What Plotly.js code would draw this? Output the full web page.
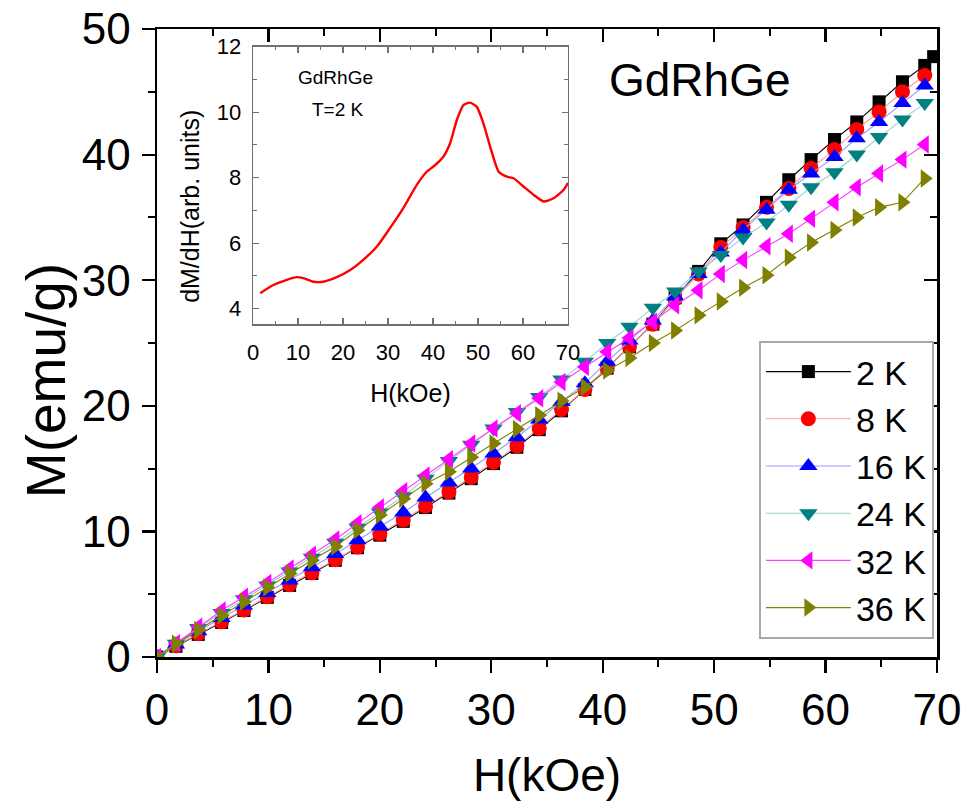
<!DOCTYPE html>
<html>
<head>
<meta charset="utf-8">
<script src="https://cdn.plot.ly/plotly-3.0.1.min.js"></script>
<style>html,body{margin:0;padding:0;background:#fff;}#chart{width:967px;height:805px;}</style>
</head>
<body>
<div id="chart"></div>
<script>
// ---- data ----
const H_common = [0, 1.7, 3.7, 5.8, 7.8, 9.9, 11.9, 13.9, 16.0, 18.0, 20.0, 22.1, 24.1, 26.2, 28.2, 30.2, 32.3, 34.3, 36.3, 38.4, 40.4, 42.4, 44.5, 46.5, 48.6, 50.6, 52.6, 54.7, 56.7, 58.7, 60.8, 62.8, 64.8, 66.9, 68.9];
const H_2K = [0, 1.7, 3.7, 5.8, 7.8, 9.9, 11.9, 13.9, 16.0, 18.0, 20.0, 22.1, 24.1, 26.2, 28.2, 30.2, 32.3, 34.3, 36.3, 38.4, 40.4, 42.4, 44.5, 46.5, 48.6, 50.6, 52.6, 54.7, 56.7, 58.7, 60.8, 62.8, 64.8, 66.9, 68.9, 69.7];
const M_2K  = [0, 0.85, 1.8, 2.75, 3.7, 4.75, 5.7, 6.65, 7.7, 8.7, 9.7, 10.8, 11.9, 13.05, 14.2, 15.4, 16.7, 18.1, 19.6, 21.3, 23.0, 24.7, 26.5, 28.6, 30.7, 32.9, 34.4, 36.2, 38.0, 39.6, 41.2, 42.6, 44.2, 45.8, 47.1, 47.8];
const M_8K  = [0, 0.9, 1.85, 2.8, 3.75, 4.8, 5.75, 6.7, 7.75, 8.75, 9.8, 10.9, 12.0, 13.15, 14.3, 15.5, 16.8, 18.2, 19.7, 21.3, 23.0, 24.7, 26.5, 28.5, 30.5, 32.6, 34.2, 35.8, 37.3, 38.9, 40.4, 42.0, 43.4, 45.0, 46.3];
const M_16K = [0, 1.0, 2.05, 3.1, 4.1, 5.1, 6.1, 7.15, 8.2, 9.3, 10.4, 11.5, 12.7, 13.9, 15.0, 16.2, 17.5, 18.9, 20.3, 21.8, 23.5, 25.2, 26.8, 28.7, 30.5, 32.2, 34.0, 35.6, 37.2, 38.5, 39.8, 41.3, 42.6, 44.1, 45.5];
const M_24K = [0, 1.05, 2.3, 3.5, 4.6, 5.7, 6.8, 7.9, 9.1, 10.3, 11.5, 12.8, 14.2, 15.6, 16.9, 18.2, 19.5, 20.7, 22.1, 23.5, 25.0, 26.3, 27.8, 29.1, 30.7, 32.0, 33.4, 34.6, 36.0, 37.4, 38.6, 40.0, 41.4, 42.8, 44.1];
const M_32K = [0, 1.1, 2.4, 3.7, 4.8, 5.9, 7.05, 8.15, 9.35, 10.65, 11.9, 13.2, 14.45, 15.75, 17.0, 18.2, 19.4, 20.6, 21.9, 23.1, 24.3, 25.4, 26.7, 28.0, 29.2, 30.5, 31.6, 32.7, 33.7, 34.9, 36.2, 37.4, 38.5, 39.6, 40.8];
const M_36K = [0, 1.05, 2.15, 3.3, 4.4, 5.55, 6.65, 7.7, 8.8, 10.1, 11.3, 12.6, 13.8, 14.75, 15.9, 17.0, 18.15, 19.25, 20.4, 21.5, 22.8, 23.8, 25.0, 26.0, 27.2, 28.3, 29.4, 30.4, 31.8, 33.0, 34.0, 35.0, 35.8, 36.2, 38.1];
const seriesNames = ['2 K', '8 K', '16 K', '24 K', '32 K', '36 K'];

const H_inset = [1.6, 4.5, 7.5, 9.7, 11.2, 13.4, 15.6, 18.6, 21.6, 24.5, 27.5, 30.4, 33.4, 36.4, 38.6, 40.1, 42.3, 43.8, 45.3, 46.8, 48.2, 49.7, 51.2, 52.7, 54.6, 56.4, 57.9, 60.1, 62.4, 64.6, 66.8, 69.0, 70.0];
const dMdH_inset = [4.47, 4.72, 4.88, 4.96, 4.93, 4.82, 4.82, 4.96, 5.18, 5.49, 5.89, 6.45, 7.07, 7.78, 8.18, 8.34, 8.64, 9.05, 9.76, 10.22, 10.29, 10.17, 9.66, 8.95, 8.18, 8.03, 7.98, 7.73, 7.47, 7.27, 7.37, 7.62, 7.84];

// ---- styles ----
const FONT = "'Liberation Sans', Arial, sans-serif";
const styles = [
  {line: '#000000', marker: '#000000', symbol: 'square', size: 13},
  {line: '#ff9a9a', marker: '#ff0000', symbol: 'circle', size: 15},
  {line: '#9a9aff', marker: '#0000ff', symbol: 'triangle-up', size: 16},
  {line: '#99d0d0', marker: '#008080', symbol: 'triangle-down', size: 16},
  {line: '#ff40ff', marker: '#ff00ff', symbol: 'triangle-left', size: 16},
  {line: '#808000', marker: '#808000', symbol: 'triangle-right', size: 16}
];
const xs = [H_2K, H_common, H_common, H_common, H_common, H_common];
const ys = [M_2K, M_8K, M_16K, M_24K, M_32K, M_36K];

const traces = seriesNames.map((name, i) => ({
  type: 'scatter', mode: 'lines+markers', name: name,
  x: xs[i], y: ys[i], xaxis: 'x', yaxis: 'y',
  line: {color: styles[i].line, width: 1.1},
  marker: {symbol: styles[i].symbol, color: styles[i].marker, size: styles[i].size, line: {width: 0}}
}));

traces.push({
  type: 'scatter', mode: 'lines', x: H_inset, y: dMdH_inset,
  xaxis: 'x2', yaxis: 'y2', showlegend: false,
  line: {color: '#ff0000', width: 2.4, shape: 'spline', smoothing: 0.6}
});
// empty trace to carry the mirrored (top/right) main axes
traces.push({type: 'scatter', mode: 'lines', x: [], y: [], xaxis: 'x3', yaxis: 'y3', showlegend: false, hoverinfo: 'skip'});

const mainTick = {size: 44, family: FONT, color: '#000'};
const insetTick = {size: 22, family: FONT, color: '#000'};

const layout = {
  width: 967, height: 805,
  margin: {l: 157, r: 30, t: 29, b: 148},
  paper_bgcolor: '#fff', plot_bgcolor: '#fff',
  showlegend: true,
  font: {family: FONT, color: '#000'},
  xaxis: {
    domain: [0, 1], anchor: 'y', range: [0, 70], dtick: 10, tick0: 0,
    showgrid: false, zeroline: false, showline: true, linecolor: '#000', linewidth: 2.5,
    ticks: 'outside', ticklen: 13, tickwidth: 2.2, tickcolor: '#000',
    minor: {ticks: 'outside', dtick: 5, ticklen: 7, tickwidth: 2, tickcolor: '#000', showgrid: false},
    tickfont: mainTick,
    title: {text: 'H(kOe)', font: {size: 46, family: FONT, color: '#000'}, standoff: 26}
  },
  yaxis: {
    domain: [0, 1], anchor: 'x', range: [0, 50], dtick: 10, tick0: 0,
    showgrid: false, zeroline: false, showline: true, linecolor: '#000', linewidth: 2.5,
    ticks: 'outside', ticklen: 13, tickwidth: 2.2, tickcolor: '#000',
    minor: {ticks: 'outside', dtick: 5, ticklen: 7, tickwidth: 2, tickcolor: '#000', showgrid: false},
    tickfont: mainTick, ticklabelstandoff: 2
  },
  xaxis3: {
    overlaying: 'x', side: 'top', anchor: 'y3', range: [0, 70], dtick: 10, tick0: 0,
    showgrid: false, zeroline: false, showline: true, linecolor: '#000', linewidth: 2.5,
    ticks: 'inside', ticklen: 13, tickwidth: 2.2, tickcolor: '#000', showticklabels: false,
    minor: {ticks: 'inside', dtick: 5, ticklen: 7, tickwidth: 2, tickcolor: '#000', showgrid: false}
  },
  yaxis3: {
    overlaying: 'y', side: 'right', anchor: 'x3', range: [0, 50], dtick: 10, tick0: 0,
    showgrid: false, zeroline: false, showline: true, linecolor: '#000', linewidth: 2.5,
    ticks: 'inside', ticklen: 13, tickwidth: 2.2, tickcolor: '#000', showticklabels: false,
    minor: {ticks: 'inside', dtick: 5, ticklen: 7, tickwidth: 2, tickcolor: '#000', showgrid: false}
  },
  xaxis2: {
    domain: [0.1231, 0.5269], anchor: 'y2', range: [0, 70], dtick: 10, tick0: 0,
    showgrid: false, zeroline: false, showline: true, linecolor: '#707070', linewidth: 1.3, mirror: 'ticks',
    ticks: 'inside', ticklen: 6, tickwidth: 1.2, tickcolor: '#707070',
    minor: {ticks: 'inside', dtick: 5, ticklen: 3.5, tickwidth: 1, tickcolor: '#707070', showgrid: false},
    tickfont: insetTick, ticklabelstandoff: 8,
    title: {text: 'H(kOe)', font: {size: 25, family: FONT, color: '#000'}, standoff: 20}
  },
  yaxis2: {
    domain: [0.5298, 0.9718], anchor: 'x2', range: [3.52, 12], dtick: 2, tick0: 0,
    showgrid: false, zeroline: false, showline: true, linecolor: '#707070', linewidth: 1.3, mirror: 'ticks',
    ticks: 'inside', ticklen: 6, tickwidth: 1.2, tickcolor: '#707070',
    minor: {ticks: 'inside', dtick: 1, ticklen: 3.5, tickwidth: 1, tickcolor: '#707070', showgrid: false},
    tickfont: insetTick, ticklabelstandoff: 6
  },
  legend: {
    x: 0.996, y: 0.0287, xanchor: 'right', yanchor: 'bottom',
    bgcolor: '#fff', bordercolor: '#a8a8a8', borderwidth: 2,
    font: {size: 34, family: FONT, color: '#000'},
    itemwidth: 85, tracegroupgap: 0
  },
  annotations: [
    {text: 'M(emu/g)', xref: 'paper', yref: 'paper', x: -0.143, y: 0.44, textangle: -90,
     showarrow: false, font: {size: 55, family: FONT, color: '#000'}, xanchor: 'center', yanchor: 'middle'},
    {text: 'GdRhGe', xref: 'paper', yref: 'paper', x: 0.696, y: 0.919,
     showarrow: false, font: {size: 46, family: FONT, color: '#000'}, xanchor: 'center', yanchor: 'middle'},
    {text: 'dM/dH(arb. units)', xref: 'paper', yref: 'paper', x: 0.042, y: 0.718, textangle: -90,
     showarrow: false, font: {size: 25, family: FONT, color: '#000'}, xanchor: 'center', yanchor: 'middle'},
    {text: 'GdRhGe', xref: 'x2', yref: 'y2', x: 18.4, y: 11.07,
     showarrow: false, font: {size: 19, family: FONT, color: '#000'}, xanchor: 'center', yanchor: 'middle'},
    {text: 'T=2 K', xref: 'x2', yref: 'y2', x: 18.9, y: 10.07,
     showarrow: false, font: {size: 19, family: FONT, color: '#000'}, xanchor: 'center', yanchor: 'middle'}
  ]
};

Plotly.newPlot('chart', traces, layout, {displayModeBar: false, staticPlot: true});
</script>
</body>
</html>
